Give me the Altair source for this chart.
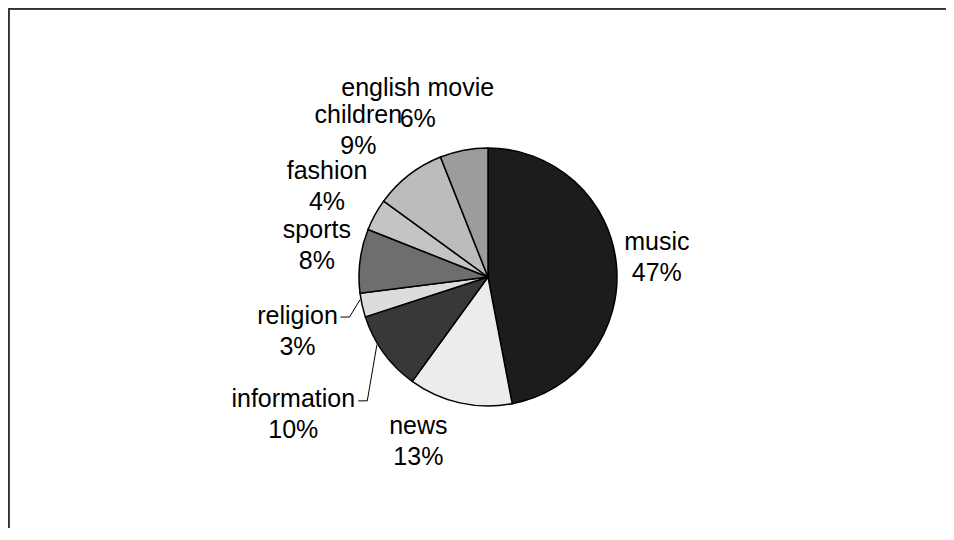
import math
import altair as alt
import pandas as pd

categories = ["music", "news", "information", "religion", "sports", "fashion", "children", "english movie"]
percents = [47, 13, 10, 3, 8, 4, 9, 6]
fills = ["#1c1c1c", "#ececec", "#383838", "#dcdcdc", "#6e6e6e", "#c4c4c4", "#bcbcbc", "#9c9c9c"]

# label placement (radius in px from pie centre, angular nudge in percent units)
label_radius = [170, 178, 238, 198, 174, 185, 196, 188]
label_nudge = [-0.4, 2.9, 0.25, -0.9, 0.9, 0.2, -1.0, -3.1]
LABEL_DY = -15

# leader lines: category, start-angle nudge (pct), elbow offset from label centre, tail length
leader_cats = ["religion", "information"]
leader_start_nudge = [0.7, 1.3]
leader_elbow = [(52, 1), (74, 2)]
leader_tail = [9, 9]

W, H = 938, 520
CX, CY, R = 480, 269, 129

df = pd.DataFrame({"category": categories, "pct": percents, "idx": list(range(len(categories)))})
df["label"] = [f"{c}\n{p}%" for c, p in zip(categories, percents)]
cum = df["pct"].cumsum() - df["pct"]
df["mid"] = cum + df["pct"] / 2
df["lt"] = df["mid"] + label_nudge
df["lr"] = label_radius

rows = []
for cat, sn, (ox, oy), tail in zip(leader_cats, leader_start_nudge, leader_elbow, leader_tail):
    r = df[df["category"] == cat].iloc[0]
    a = r["lt"] / 100 * 2 * math.pi
    lx = CX + r["lr"] * math.sin(a)
    ly = CY - r["lr"] * math.cos(a) + LABEL_DY
    sa = (r["mid"] + sn) / 100 * 2 * math.pi
    sx = CX + (R + 1) * math.sin(sa)
    sy = CY - (R + 1) * math.cos(sa)
    ex, ey = lx + ox, ly + oy
    rows.append({"x": sx, "y": sy, "x2": ex, "y2": ey})
    rows.append({"x": ex, "y": ey, "x2": ex - tail, "y2": ey})
leaders = pd.DataFrame(rows)

theta_scale = alt.Scale(domain=[0, 100], range=[0, 2 * math.pi])

pie = alt.Chart(df).mark_arc(outerRadius=R, stroke="black", strokeWidth=1.5).encode(
    theta=alt.Theta("pct:Q", stack=True, scale=theta_scale),
    order=alt.Order("idx:Q", sort="ascending"),
    color=alt.Color("category:N", scale=alt.Scale(domain=categories, range=fills), legend=None),
    x=alt.value(CX),
    y=alt.value(CY),
)

labels = alt.Chart(df).mark_text(
    font="Liberation Sans", fontSize=25, lineBreak="\n", lineHeight=31,
    align="center", baseline="middle", color="black", dy=LABEL_DY,
).encode(
    theta=alt.Theta("lt:Q", stack=False, scale=theta_scale),
    radius=alt.Radius("lr:Q", scale=None),
    text="label:N",
    x=alt.value(CX),
    y=alt.value(CY),
)

lead = alt.Chart(leaders).mark_rule(color="black", strokeWidth=1).encode(
    x=alt.X("x:Q", scale=None),
    y=alt.Y("y:Q", scale=None),
    x2="x2:Q",
    y2="y2:Q",
)

frame_top = alt.Chart(df).mark_rule(color="#333333", strokeWidth=1.5).encode(
    x=alt.value(0), x2=alt.value(W), y=alt.value(0.5)
)
frame_left = alt.Chart(df).mark_rule(color="#333333", strokeWidth=1.5).encode(
    x=alt.value(0.5), y=alt.value(0), y2=alt.value(H)
)

chart = alt.layer(pie, lead, labels, frame_top, frame_left).properties(
    width=W, height=H, padding=0, autosize=alt.AutoSizeParams(type="none"),
    background="white",
).configure_view(stroke=None)

chart.save("out.html", embed_options={"renderer": "svg", "actions": False})
